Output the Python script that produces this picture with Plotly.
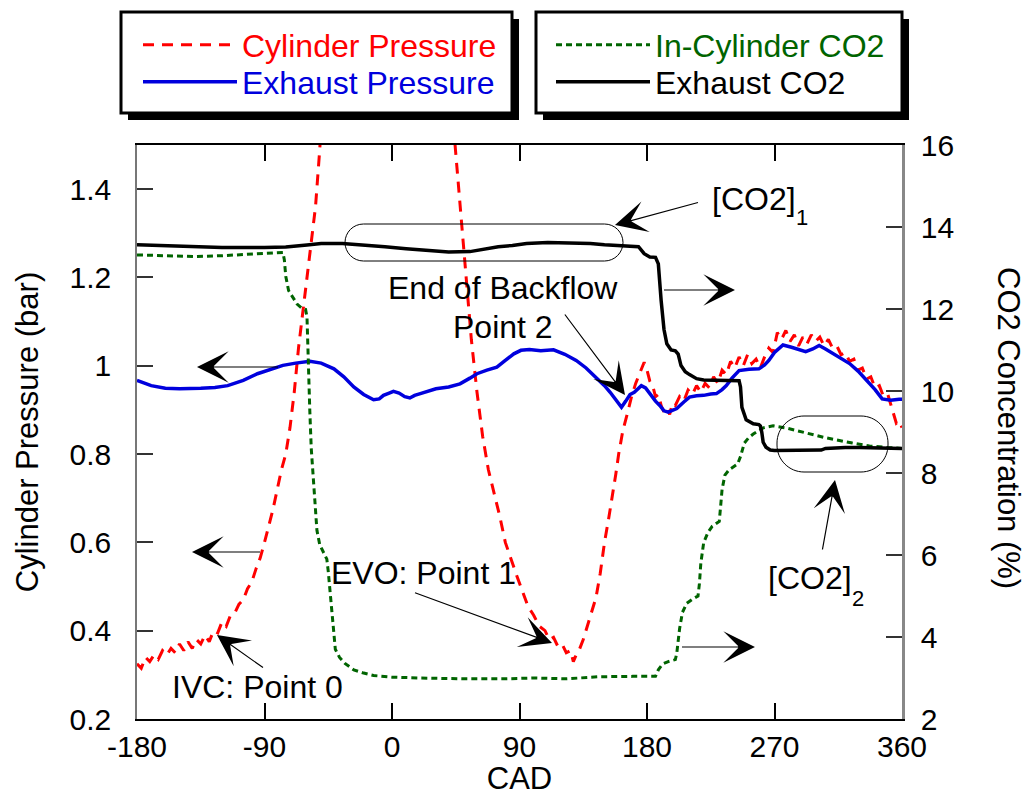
import plotly.graph_objects as go

# ---------------- data ----------------
cad_cyl = [-180, -177, -174, -171, -168, -165, -162, -159, -156, -153, -150, -147, -144, -141, -138,
           -135, -132, -129, -126, -123, -120, -117, -114, -111, -108, -105, -102, -99, -96, -93,
           -90, -87, -84, -81, -78, -75, -72, -69, -66, -63, -60, -57, -54, -51, -48, -44, -40,
           -30, -20, -10, 0, 10, 20, 30, 36, 40, 44, 48, 52, 56, 60, 64, 68, 72, 76, 80, 84, 88,
           92, 96, 100, 104, 108, 111, 114, 117, 120, 123, 126, 128, 130, 132, 135, 138, 141, 144,
           147, 150, 153, 156, 158, 160, 163, 166, 169, 172, 175, 178, 180, 182, 184, 186, 188,
           190, 192, 194, 196, 198, 200, 203, 206, 209, 212, 215, 218, 221, 224, 227, 230, 233,
           236, 239, 242, 245, 248, 251, 254, 257, 260, 263, 266, 269, 272, 275, 278, 281, 284,
           287, 290, 293, 296, 299, 302, 305, 308, 311, 314, 317, 320, 323, 326, 329, 332, 335,
           338, 341, 344, 347, 350, 353, 356, 358, 360]
p_cyl = [0.325, 0.315, 0.34, 0.33, 0.345, 0.335, 0.355, 0.345, 0.36, 0.35, 0.37, 0.355, 0.375, 0.36, 0.38,
         0.37, 0.39, 0.375, 0.40, 0.395, 0.42, 0.41, 0.435, 0.44, 0.46, 0.47, 0.495, 0.51, 0.54, 0.565,
         0.60, 0.635, 0.675, 0.72, 0.765, 0.80, 0.86, 0.94, 1.04, 1.12, 1.20, 1.28, 1.36, 1.49, 1.65, 1.90, 2.30,
         4.0, 7.5, 13.0, 18.0, 14.0, 8.0, 4.0, 2.6, 2.0, 1.52, 1.37, 1.21, 1.06, 0.94, 0.84, 0.765, 0.715, 0.66, 0.60, 0.56, 0.525,
         0.49, 0.455, 0.435, 0.41, 0.40, 0.38, 0.385, 0.365, 0.37, 0.35, 0.355, 0.33, 0.345, 0.355, 0.38, 0.41, 0.445, 0.475,
         0.53, 0.60, 0.655, 0.71, 0.755, 0.80, 0.854, 0.89, 0.929, 0.96, 0.985, 1.008, 0.99, 0.965, 0.955, 0.93, 0.935,
         0.91, 0.895, 0.905, 0.89, 0.915, 0.91, 0.93, 0.92, 0.945, 0.935, 0.955, 0.94, 0.96, 0.95, 0.975, 0.96, 0.99,
         0.98, 1.01, 0.995, 1.02, 1.0, 1.025, 1.005, 1.015, 0.995, 1.02, 1.04, 1.03, 1.075, 1.06, 1.08, 1.055, 1.07,
         1.045, 1.065, 1.05, 1.07, 1.055, 1.065, 1.045, 1.06, 1.04, 1.045, 1.025, 1.03, 1.01, 1.015, 0.99, 0.995, 0.97,
         0.975, 0.95, 0.955, 0.93, 0.935, 0.905, 0.87, 0.875, 0.86]

cad_exh = [-180, -170, -160, -150, -135, -125, -116, -105, -95, -85, -77, -68, -58, -50, -41, -34, -27, -20,
           -13, -9, -6, -2, 1, 5, 9, 12.6, 16, 20, 26, 31, 40, 48, 55, 60, 67, 74, 80, 86, 91, 97, 105, 114,
           122, 130, 137, 144, 150, 154, 158, 162, 165, 168, 171, 176, 179, 182, 186, 189, 192, 195, 198, 201,
           206, 210, 215, 220, 225, 229, 233, 236, 240, 245, 252, 259, 263, 266, 270, 276, 282, 287, 292, 297,
           301.5, 306, 311, 317, 323, 329, 335, 341, 346, 352, 358, 360]
p_exh = [0.967, 0.955, 0.949, 0.948, 0.949, 0.951, 0.955, 0.967, 0.982, 0.993, 1.001, 1.006, 1.010, 1.006, 0.993, 0.975, 0.952, 0.935,
         0.923, 0.925, 0.933, 0.938, 0.942, 0.938, 0.930, 0.927, 0.933, 0.937, 0.942, 0.948, 0.952, 0.959, 0.972, 0.982, 0.990, 0.997, 1.012, 1.027, 1.035, 1.037, 1.034, 1.036,
         1.026, 1.012, 0.995, 0.974, 0.955, 0.940, 0.922, 0.906, 0.920, 0.935, 0.940, 0.955, 0.950, 0.937, 0.920, 0.910, 0.898, 0.895, 0.900, 0.903,
         0.918, 0.929, 0.932, 0.933, 0.936, 0.937, 0.946, 0.955, 0.972, 0.989, 0.992, 0.993, 1.002, 1.012, 1.030, 1.047, 1.042, 1.036, 1.032, 1.038,
         1.046, 1.038, 1.028, 1.017, 1.005, 0.988, 0.967, 0.946, 0.925, 0.922, 0.924, 0.924]

cad_co2_in = [-180, -160, -140, -120, -100, -85, -77, -76, -75, -73, -70, -67, -64, -61, -60, -59, -58, -57,
              -55, -53, -51, -48, -46, -45, -44, -43, -42, -41, -40, -37, -33, -27, -20, -13, 0, 20, 50, 80,
              100, 123, 146, 170, 186, 188, 191, 195, 200, 201, 202, 203, 205, 208, 212, 216, 217, 218, 220,
              223, 226, 231, 232, 233, 235, 238, 244, 246, 248.7, 252, 255, 262, 269, 278, 292, 306, 325,
              337, 350, 360]
co2_in = [13.32, 13.30, 13.28, 13.30, 13.33, 13.37, 13.38, 13.2, 12.8, 12.45, 12.3, 12.12, 12.03, 11.99, 11.8, 10.5, 9.5, 8.6,
          7.5, 6.6, 6.25, 6.05, 5.9, 5.6, 5.2, 4.7, 4.3, 3.9, 3.7, 3.5, 3.35, 3.2, 3.12, 3.06, 3.02, 3.0, 2.98, 2.98,
          3.0, 2.98, 3.03, 3.04, 3.04, 3.2, 3.34, 3.4, 3.45, 3.6, 3.9, 4.2, 4.6, 4.82, 4.92, 5.0, 5.3, 5.8, 6.3,
          6.55, 6.7, 6.82, 7.2, 7.6, 7.95, 8.08, 8.22, 8.4, 8.73, 8.87, 8.95, 9.1, 9.15, 9.1, 8.98, 8.86, 8.73,
          8.66, 8.62, 8.6]

cad_co2_ex = [-180, -150, -120, -90, -75, -60, -50, -35, -20, -5, 10, 25, 40, 55, 65, 75, 85, 95, 110, 125,
              140, 150, 160, 170, 174, 178, 182, 186, 188, 190, 192, 194, 197, 200, 202, 204, 207, 210, 215,
              220, 230, 240, 245, 246, 247, 250, 255, 259, 260, 261, 262, 264, 267, 270, 280, 290, 300, 303,
              306, 310, 320, 330, 340, 350, 360]
co2_ex = [13.57, 13.53, 13.50, 13.50, 13.51, 13.56, 13.60, 13.60, 13.57, 13.52, 13.47, 13.44, 13.39, 13.40, 13.47, 13.52, 13.55, 13.60, 13.62, 13.62,
          13.60, 13.57, 13.55, 13.53, 13.52, 13.35, 13.27, 13.26, 13.1, 12.2, 11.5, 11.15, 11.0, 10.98, 10.9, 10.62, 10.47, 10.40, 10.30,
          10.27, 10.26, 10.26, 10.25, 10.1, 9.6, 9.3, 9.2, 9.18, 9.15, 9.0, 8.75, 8.63, 8.56, 8.55, 8.55, 8.54, 8.55, 8.56,
          8.60, 8.61, 8.62, 8.62, 8.61, 8.60, 8.60]

series_names = ["Cylinder Pressure", "Exhaust Pressure", "In-Cylinder CO2", "Exhaust CO2"]
x_ticks = [-180, -90, 0, 90, 180, 270, 360]
x_ticktext = ["-180", "-90", "0", "90", "180", "270", "360"]
y_ticks = [0.2, 0.4, 0.6, 0.8, 1.0, 1.2, 1.4]
y_ticktext = ["0.2", "0.4", "0.6", "0.8", "1", "1.2", "1.4"]
y2_ticks = [2, 4, 6, 8, 10, 12, 14, 16]

# ---------------- layout geometry ----------------
W, H = 1028, 796
ML, MR, MT, MB = 137, 126, 145, 77
PW, PH = W - ML - MR, H - MT - MB
X0, X1, Y0, Y1, Z0, Z1 = -180, 360, 0.2, 1.5, 2, 16


def xp(px):  # pixel -> paper x
    return (px - ML) / PW


def yp(py):  # pixel -> paper y
    return (H - MB - py) / PH


def cad(px):
    return X0 + (px - ML) / PW * (X1 - X0)


def bar(py):
    return Y0 + (H - MB - py) / PH * (Y1 - Y0)


def pct(py):
    return Z0 + (H - MB - py) / PH * (Z1 - Z0)


FONT = "Liberation Sans, Arial, sans-serif"
RED, BLUE, GREEN, BLACK = "#ff0000", "#0000dd", "#006400", "#000000"

fig = go.Figure()
fig.add_trace(go.Scatter(x=cad_cyl, y=p_cyl, mode="lines", name=series_names[0],
                         line=dict(color=RED, width=3, dash="11px,8px"), legend="legend"))
fig.add_trace(go.Scatter(x=cad_exh, y=p_exh, mode="lines", name=series_names[1],
                         line=dict(color=BLUE, width=3.5), legend="legend2"))
fig.add_trace(go.Scatter(x=cad_co2_in, y=co2_in, mode="lines", yaxis="y2", name=series_names[2],
                         line=dict(color=GREEN, width=3, dash="6px,4px"), legend="legend3"))
fig.add_trace(go.Scatter(x=cad_co2_ex, y=co2_ex, mode="lines", yaxis="y2", name=series_names[3],
                         line=dict(color=BLACK, width=3.5), legend="legend4"))

axfont = dict(family=FONT, size=30, color="black")
titlefont = dict(family=FONT, size=31, color="black")


def leg(px, py, color):
    return dict(x=xp(px), y=yp(py), xanchor="left", yanchor="middle", bgcolor="rgba(0,0,0,0)",
                borderwidth=0, font=dict(family=FONT, size=32, color=color), itemwidth=94, tracegroupgap=0)


fig.update_layout(
    width=W, height=H,
    margin=dict(l=ML, r=MR, t=MT, b=MB, autoexpand=False),
    paper_bgcolor="white", plot_bgcolor="white",
    font=dict(family=FONT, size=30, color="black"),
    xaxis=dict(range=[X0, X1], tickvals=x_ticks, ticktext=x_ticktext, ticks="inside", ticklen=16, tickwidth=1.5,
               tickcolor="black", showline=True, linecolor="black", linewidth=2, mirror="ticks", showgrid=False,
               zeroline=False, tickfont=axfont, ticklabelstandoff=0,
               title=dict(text="CAD", font=titlefont, standoff=4)),
    yaxis=dict(range=[Y0, Y1], tickvals=y_ticks, ticktext=y_ticktext, ticks="inside", ticklen=16, tickwidth=1.5,
               tickcolor="#333", showline=True, linecolor="#777", linewidth=1.5, showgrid=False, zeroline=False,
               tickfont=axfont, ticklabelstandoff=18,
               title=dict(text="Cylinder Pressure (bar)", font=titlefont, standoff=22)),
    yaxis2=dict(range=[Z0, Z1], tickvals=y2_ticks, overlaying="y", side="right", ticks="inside", ticklen=16,
                tickwidth=1.5, tickcolor="#333", showline=True, linecolor="#888", linewidth=2.5, showgrid=False,
                zeroline=False, tickfont=axfont, ticklabelstandoff=10),
    legend=leg(138, 45, RED),
    legend2=leg(138, 82, BLUE),
    legend3=leg(551, 45, GREEN),
    legend4=leg(551, 82, BLACK),
    showlegend=True,
)

# legend frames with drop shadows
for (a, b) in [(121, 512), (536, 902)]:
    fig.add_shape(type="rect", xref="paper", yref="paper", x0=xp(a + 7), x1=xp(b + 7), y0=yp(120), y1=yp(19),
                  fillcolor="black", line=dict(width=0), layer="below")
    fig.add_shape(type="rect", xref="paper", yref="paper", x0=xp(a), x1=xp(b), y0=yp(113), y1=yp(12),
                  fillcolor="white", line=dict(color="black", width=3), layer="below")


# rounded "stadium" outlines
def stadium(px0, px1, py0, py1, r, yref):
    k = 0.5523
    conv = pct if yref == "y2" else bar
    xa, xb = cad(px0), cad(px1)
    xa2, xb2 = cad(px0 + r), cad(px1 - r)
    kx = cad(px0 + r) - cad(px0 + r - k * r)
    yt, yb = conv(py0), conv(py1)
    yt2, yb2 = conv(py0 + r), conv(py1 - r)
    ky = conv(py0) - conv(py0 + k * r)
    d = (f"M{xa2},{yt} L{xb2},{yt} C{xb2 + kx},{yt} {xb},{yt2 + ky} {xb},{yt2} "
         f"L{xb},{yb2} C{xb},{yb2 - ky} {xb2 + kx},{yb} {xb2},{yb} "
         f"L{xa2},{yb} C{xa2 - kx},{yb} {xa},{yb2 - ky} {xa},{yb2} "
         f"L{xa},{yt2} C{xa},{yt2 + ky} {xa2 - kx},{yt} {xa2},{yt} Z")
    fig.add_shape(type="path", path=d, xref="x", yref=yref, line=dict(color="black", width=1))


stadium(345, 623, 224, 261, 18.5, "y2")
stadium(777, 888, 416, 472, 27, "y2")


# arrows
def arrow(tip, tail, yref, size=4.4):
    conv = pct if yref == "y2" else bar
    fig.add_annotation(x=cad(tip[0]), y=conv(tip[1]), ax=cad(tail[0]), ay=conv(tail[1]), xref="x", yref=yref,
                       axref="x", ayref=yref, text=" ", showarrow=True, arrowhead=3, arrowsize=size,
                       arrowwidth=1.2, arrowcolor="black", font=dict(size=2))


arrow((192, 552), (262, 552), "y")
arrow((197, 367), (280, 367), "y")
arrow((735, 290), (662, 290), "y2")
arrow((755, 647), (680, 647), "y2")
arrow((615, 225), (700, 202), "y2")
arrow((835, 480), (822, 552), "y2")
arrow((625, 395), (563, 312), "y")
arrow((552, 643), (413, 592), "y")
arrow((217, 635), (265, 669), "y")


def label(text, px, py, xanchor="left", yanchor="middle", size=32, angle=0):
    fig.add_annotation(x=xp(px), y=yp(py), xref="paper", yref="paper", text=text, showarrow=False,
                       xanchor=xanchor, yanchor=yanchor, textangle=angle,
                       font=dict(family=FONT, size=size, color="black"))


label("[CO2]", 710, 199)
label("1", 794, 218, size=22)
label("[CO2]", 766, 578)
label("2", 850, 598, size=22)
label("End of Backflow", 503, 288, xanchor="center")
label("Point 2", 503, 327, xanchor="center")
label("EVO: Point 1", 329, 573)
label("IVC: Point 0", 170, 687)
label("CO2 Concentration (%)", 1008, 428, xanchor="center", size=31, angle=90)

fig.write_html("out.html")
